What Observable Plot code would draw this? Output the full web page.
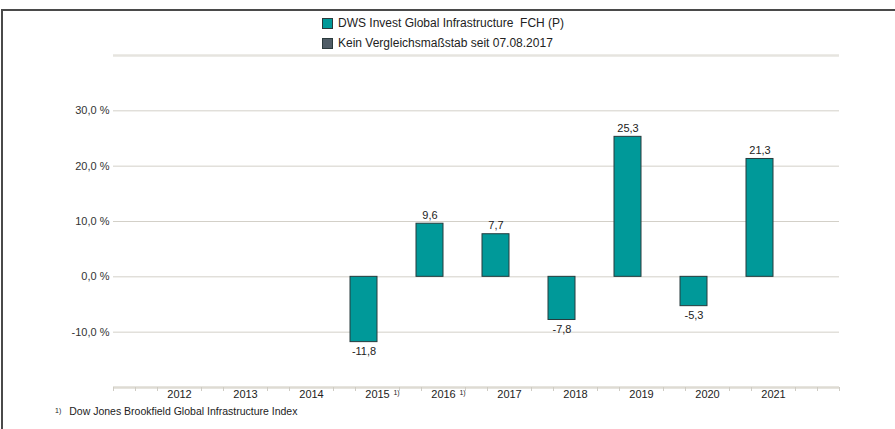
<!DOCTYPE html>
<html>
<head>
<meta charset="utf-8">
<script src="https://cdn.jsdelivr.net/npm/d3@7"></script>
<script src="https://cdn.jsdelivr.net/npm/@observablehq/plot@0.6"></script>
<style>
  html, body { margin: 0; padding: 0; background: #fff; }
  body { width: 895px; height: 429px; position: relative; overflow: hidden; font-family: "Liberation Sans", Arial, sans-serif; color: #222; }
  #frame { position: absolute; left: 1px; top: 9px; width: 900px; height: 430px; border-top: 2px solid #4a4a4a; border-left: 2px solid #4a4a4a; }
  #legend { position: absolute; left: 322px; top: 13px; font-size: 12px; line-height: 20px; }
  .item { display: flex; align-items: center; height: 20px; }
  .sw { width: 9px; height: 9px; border: 1px solid #2b3a3c; margin-right: 5px; }
  #chart { position: absolute; left: 0; top: 45px; }
  #foot { position: absolute; left: 55px; top: 405px; font-size: 10.5px; }
  #foot sup { font-size: 7px; margin-right: 8px; vertical-align: 2px; }
</style>
</head>
<body>
<div id="frame"></div>
<div id="legend"></div>
<div id="chart"></div>
<div id="foot"></div>
<script>
// ---- data ----
const years = [2012, 2013, 2014, 2015, 2016, 2017, 2018, 2019, 2020, 2021];
const fundYears = [2015, 2016, 2017, 2018, 2019, 2020, 2021];
const fundValues = [-11.8, 9.6, 7.7, -7.8, 25.3, -5.3, 21.3];
const footnoteYears = [2015, 2016];
const yTicks = [-10, 0, 10, 20, 30];
const seriesNames = ["DWS Invest Global Infrastructure  FCH (P)", "Kein Vergleichsmaßstab seit 07.08.2017"];
const seriesColors = ["#009999", "#4f5c66"];
const footnoteText = "Dow Jones Brookfield Global Infrastructure Index";

const data = fundYears.map((year, i) => ({year, value: fundValues[i]}));
const fmt = v => v.toFixed(1).replace(".", ",");
// minor ticks every third of a year, hidden under labels at whole years
const minorTicks = d3.range(0, 34).map(i => 2011 + i / 3).filter(t => Math.abs(t - Math.round(t)) > 0.01 || Math.round(t) === 2011 || Math.round(t) === 2022);

// ---- legend ----
const legend = document.getElementById("legend");
seriesNames.forEach((n, i) => {
  const it = document.createElement("div");
  it.className = "item";
  it.innerHTML = `<span class="sw" style="background:${seriesColors[i]}"></span><span style="white-space:pre">${n}</span>`;
  legend.appendChild(it);
});
document.getElementById("foot").innerHTML = `<sup>1)</sup>${footnoteText}`;

// ---- chart ----
const chart = Plot.plot({
  width: 895,
  height: 365,
  marginLeft: 113,
  marginRight: 56,
  marginTop: 10,
  marginBottom: 23,
  style: {fontFamily: "Liberation Sans, Arial, sans-serif", fontSize: "11px", color: "#222", background: "transparent"},
  x: {type: "linear", domain: [2011, 2022], label: null},
  y: {domain: [-20, 40], label: null},
  marks: [
    Plot.gridY(yTicks, {stroke: "#d3d0c8", strokeOpacity: 1}),
    Plot.ruleY([40], {stroke: "#e6e4df", strokeWidth: 2.5}),
    Plot.rectY(data, {
      x1: d => d.year - 0.5, x2: d => d.year + 0.5, y: "value",
      insetLeft: 6, insetRight: 33,
      fill: seriesColors[0], stroke: "#263b3d", strokeWidth: 1
    }),
    Plot.ruleY([-20], {stroke: "#dedbd3", strokeWidth: 2.5}),
    Plot.axisX({ticks: minorTicks, tickSize: 4, tickFormat: () => "", stroke: "#cfccc4", label: null}),
    Plot.axisX({ticks: years, tickSize: 0, tickPadding: 3, tickFormat: d => String(d), fill: "#222", label: null}),
    Plot.text(footnoteYears, {x: d => d, frameAnchor: "bottom", text: () => "1)", dx: 19, dy: 7, fontSize: 7, fill: "#222"}),
    Plot.axisY({ticks: yTicks, tickSize: 0, tickPadding: 4, tickFormat: d => fmt(d) + " %", fill: "#333", label: null}),
    Plot.text(data.filter(d => d.value >= 0), {x: d => d.year, y: "value", text: d => fmt(d.value), dx: -13.5, dy: -5, lineAnchor: "bottom", fill: "#222", fontWeight: 500}),
    Plot.text(data.filter(d => d.value < 0), {x: d => d.year, y: "value", text: d => fmt(d.value), dx: -13.5, dy: 5, lineAnchor: "top", fill: "#222", fontWeight: 500})
  ]
});
document.getElementById("chart").appendChild(chart);
</script>
</body>
</html>
